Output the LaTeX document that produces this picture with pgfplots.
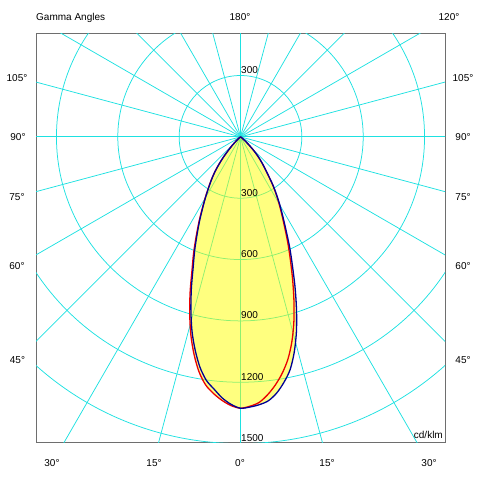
\documentclass[border=0pt]{standalone}
\usepackage{fontspec}
\setmainfont{Liberation Sans}
\usepackage{pgfplots}
\usepackage{pgfplotstable}
\pgfplotsset{compat=1.18}
\definecolor{gridc}{RGB}{30,225,225}
\definecolor{framec}{RGB}{110,110,110}
\definecolor{redc}{RGB}{235,0,0}
\definecolor{bluec}{RGB}{0,0,150}
\definecolor{fillc}{RGB}{255,255,0}
% C0-C180 plane (red): angle = -90 -/+ gamma, r = cd/klm
\pgfplotstableread{
ang r
-150 0
-145 2
-140 8
-138 18
-136 35
-134 60
-132 90
-130 132
-128 175
-126 218
-124 258
-122 298
-120 346
-118 400
-116 464
-114 533
-112 612
-110 693
-108 797
-106 901
-104 1002
-102 1090
-100 1167
-98 1225
-96 1262
-94 1292
-92 1315
-90 1327
-88 1318
-86 1302
-84 1268
-82 1225
-80 1174
-78 1113
-76 1036
-74 946
-72 846
-70 746
-68 652
-66 570
-64 493
-62 430
-60 377
-58 327
-56 278
-54 227
-52 189
-50 157
-48 126
-46 94
-44 61
-42 38
-40 20
-38 10
-35 3
-30 0
}\redtab
% C90-C270 plane (blue)
\pgfplotstableread{
ang r
-150 0
-145 2
-140 8
-138 18
-136 35
-134 59
-132 89
-130 131
-128 173
-126 216
-124 255
-122 295
-120 342
-118 394
-116 456
-114 522
-112 598
-110 676
-108 777
-106 880
-104 980
-102 1066
-100 1143
-98 1202
-96 1240
-94 1280
-92 1309
-90 1327
-88 1322
-86 1313
-84 1298
-82 1266
-80 1220
-78 1165
-76 1086
-74 992
-72 886
-70 779
-68 677
-66 591
-64 508
-62 441
-60 385
-58 332
-56 282
-54 229
-52 191
-50 159
-48 127
-46 95
-44 62
-42 38
-40 20
-38 10
-35 3
-30 0
}\bluetab
% outer envelope for the yellow fill
\pgfplotstableread{
ang r
-150 0
-145 2
-140 8
-138 18
-136 35
-134 60
-132 90
-130 132
-128 175
-126 218
-124 258
-122 298
-120 346
-118 400
-116 464
-114 533
-112 612
-110 693
-108 797
-106 901
-104 1002
-102 1090
-100 1167
-98 1225
-96 1262
-94 1292
-92 1315
-90 1327
-88 1322
-86 1313
-84 1298
-82 1266
-80 1220
-78 1165
-76 1086
-74 992
-72 886
-70 779
-68 677
-66 591
-64 508
-62 441
-60 385
-58 332
-56 282
-54 229
-52 191
-50 159
-48 127
-46 95
-44 62
-42 38
-40 20
-38 10
-35 3
-30 0
}\envtab
\begin{document}
\begin{tikzpicture}[font=\fontsize{10}{12}\selectfont, every node/.style={inner sep=0pt}]
\path[use as bounding box] (0pt,0pt) rectangle (480pt,479pt);
\begin{axis}[at={(36pt,36pt)}, anchor=south west, scale only axis,
  width=409pt, height=409pt,
  xmin=-1000, xmax=1000, ymin=-1497, ymax=503,
  xtick=\empty, ytick=\empty,
  axis line style={framec, line width=1pt}]
\pgfplotsinvokeforeach{0,15,...,345}{\draw[gridc, line width=0.75pt] (axis cs:0,0) -- ++(#1:520pt);}
\pgfplotsinvokeforeach{61.35,122.7,184.05,245.4,306.75}{\draw[gridc, line width=0.75pt] (axis cs:0,0) circle[radius=#1pt];}
\addplot[draw=none, fill=fillc, fill opacity=0.5, data cs=polar, smooth, tension=0.5] table[x=ang,y=r]{\envtab};
\addplot[redc, line width=1.3pt, data cs=polar, smooth, tension=0.5] table[x=ang,y=r]{\redtab};
\addplot[bluec, line width=1.3pt, data cs=polar, smooth, tension=0.5] table[x=ang,y=r]{\bluetab};
\end{axis}
% header
\node[anchor=base west] at (36pt,458.3pt) {Gamma Angles};
\node[anchor=base] at (240pt,458.3pt) {180°};
\node[anchor=base] at (449pt,458.3pt) {120°};
% side labels
\node[anchor=base] at (17pt,397.3pt) {105°};
\node[anchor=base] at (463pt,397.3pt) {105°};
\node[anchor=base] at (18pt,338.3pt) {90°};
\node[anchor=base] at (463pt,338.3pt) {90°};
\node[anchor=base] at (17pt,278.3pt) {75°};
\node[anchor=base] at (463pt,278.3pt) {75°};
\node[anchor=base] at (17pt,209pt) {60°};
\node[anchor=base] at (463pt,209pt) {60°};
\node[anchor=base] at (17.5pt,115pt) {45°};
\node[anchor=base] at (463pt,115pt) {45°};
% bottom labels
\node[anchor=base] at (52pt,12.5pt) {30°};
\node[anchor=base] at (154pt,12.5pt) {15°};
\node[anchor=base] at (240pt,12.5pt) {0°};
\node[anchor=base] at (327pt,12.5pt) {15°};
\node[anchor=base] at (429pt,12.5pt) {30°};
% circle values
\node[anchor=base west] at (241pt,405.7pt) {300};
\node[anchor=base west] at (241pt,282.5pt) {300};
\node[anchor=base west] at (241pt,221.1pt) {600};
\node[anchor=base west] at (241pt,160pt) {900};
\node[anchor=base west] at (241pt,98.6pt) {1200};
\node[anchor=base west] at (241pt,37.4pt) {1500};
\node[anchor=base east] at (443pt,40.5pt) {cd/klm};
\end{tikzpicture}
\end{document}
